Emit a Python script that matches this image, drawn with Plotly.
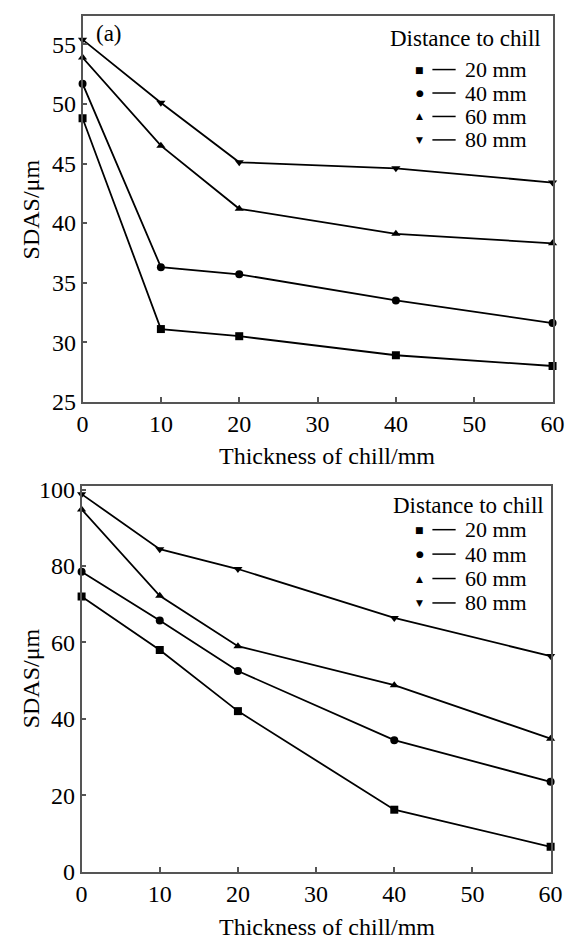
import plotly.graph_objects as go

# ---------------- data ----------------
thickness = [0, 10, 20, 40, 60]
series_names = ["20 mm", "40 mm", "60 mm", "80 mm"]
symbols = ["square", "circle", "triangle-up", "triangle-down"]
glyphs = ["■", "●", "▲", "▼"]

# panel (a)
a_20 = [48.8, 31.1, 30.5, 28.9, 28.0]
a_40 = [51.7, 36.3, 35.7, 33.5, 31.6]
a_60 = [53.9, 46.5, 41.2, 39.1, 38.3]
a_80 = [55.4, 50.1, 45.1, 44.6, 43.4]

# panel (b)
b_20 = [72.0, 58.0, 42.0, 16.2, 6.5]
b_40 = [78.5, 65.7, 52.5, 34.4, 23.5]
b_60 = [94.8, 72.2, 59.0, 48.8, 34.8]
b_80 = [98.8, 84.4, 79.2, 66.4, 56.4]

y_ticks_a = [25, 30, 35, 40, 45, 50, 55]
y_ticks_b = [0, 20, 40, 60, 80, 100]
x_ticks = [0, 10, 20, 30, 40, 50, 60]

FONT = "Liberation Serif, Times New Roman, serif"
AXC = "#555555"

fig = go.Figure()

panels = [
    ([a_20, a_40, a_60, a_80], "x", "y"),
    ([b_20, b_40, b_60, b_80], "x2", "y2"),
]
for vals, xa, ya in panels:
    for v, name, sym in zip(vals, series_names, symbols):
        fig.add_trace(go.Scatter(
            x=thickness, y=v, name=name, mode="lines+markers",
            xaxis=xa, yaxis=ya, showlegend=False, cliponaxis=False,
            line=dict(color="black", width=1.8),
            marker=dict(symbol=sym, size=8, color="black"),
        ))

axis_common = dict(
    showline=True, linecolor=AXC, linewidth=1.5, mirror=True,
    ticks="inside", ticklen=5, tickwidth=1.5, tickcolor=AXC,
    showgrid=False, zeroline=False,
    tickfont=dict(family=FONT, size=24, color="black"),
)

W, H = 582, 952
def px_x(p): return p / W
def px_y(p): return 1 - p / H

fig.update_layout(
    width=W, height=H,
    margin=dict(l=0, r=0, t=0, b=0),
    paper_bgcolor="white", plot_bgcolor="white",
    font=dict(family=FONT, color="black"),
    xaxis=dict(axis_common, domain=[px_x(79), px_x(564)], range=[0, 60],
               tickvals=x_ticks, anchor="y"),
    yaxis=dict(axis_common, domain=[px_y(402), px_y(7)], range=[25, 57.4],
               tickvals=y_ticks_a, anchor="x"),
    xaxis2=dict(axis_common, domain=[px_x(78), px_x(562)], range=[0, 60],
                tickvals=x_ticks, anchor="y2"),
    yaxis2=dict(axis_common, domain=[px_y(883), px_y(488)], range=[0, 101],
                tickvals=y_ticks_b, anchor="x2"),
)

annotations = []
shapes = []

def txt(text, x, y, xanchor="center", size=23, angle=0, family=FONT):
    annotations.append(dict(text=text, x=px_x(x), y=px_y(y), xref="paper", yref="paper",
                            xanchor=xanchor, yanchor="middle", showarrow=False,
                            textangle=angle, borderpad=0,
                            font=dict(family=family, size=size, color="black")))

txt("(a)", 92, 25, xanchor="left", size=23)
# axis titles
txt("Thickness of chill/mm", 331, 458, size=24)
txt("Thickness of chill/mm", 331, 940, size=24)
txt("SDAS/μm", 26, 205, size=24, angle=-90)
txt("SDAS/μm", 26, 685, size=24, angle=-90)

def add_legend(title_right, title_y, rows_y):
    txt("Distance to chill", title_right, title_y, xanchor="right", size=23)
    for g, name, ry in zip(glyphs, series_names, rows_y):
        txt(g, 427, ry, size=9, family="DejaVu Sans")
        shapes.append(dict(type="line", xref="paper", yref="paper",
                           x0=px_x(440), x1=px_x(464), y0=px_y(ry), y1=px_y(ry),
                           line=dict(color="black", width=1.5)))
        txt(name, 473, ry, xanchor="left", size=22)

add_legend(553, 30, [62, 86, 110, 134])
add_legend(556, 508, [533, 558, 583, 608])

fig.update_layout(annotations=annotations, shapes=shapes)

fig.write_html("out.html")
